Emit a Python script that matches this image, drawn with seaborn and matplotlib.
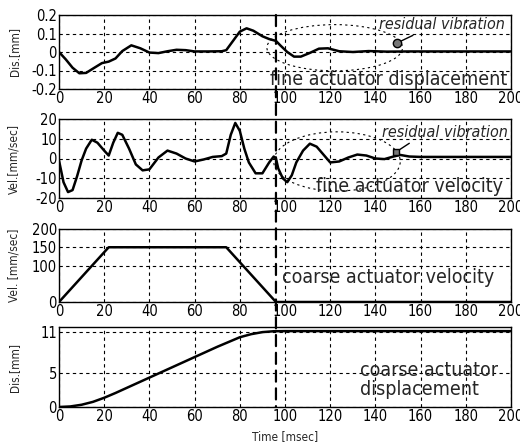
import matplotlib
matplotlib.use("Agg")
import matplotlib.pyplot as plt
import seaborn as sns
import pandas as pd
from matplotlib.patches import Ellipse, ConnectionPatch

# ---------------- data ----------------
fd_t = [0, 3, 6, 9, 12, 15, 19, 22, 25, 28, 32, 36, 40, 44, 48, 52, 56, 60, 66, 72, 74, 77, 80, 83, 86,
        90, 93, 96, 98, 101, 104, 107, 111, 115, 119, 124, 130, 137, 145, 155, 170, 200]
fd_y = [0, -0.04, -0.085, -0.115, -0.113, -0.09, -0.06, -0.052, -0.035, 0.005, 0.036, 0.02, -0.003,
        -0.006, 0.004, 0.012, 0.01, 0.003, 0.003, 0.004, 0.01, 0.06, 0.11, 0.128, 0.115, 0.085, 0.07,
        0.06, 0.035, 0.0, -0.025, -0.025, -0.005, 0.018, 0.02, 0.004, 0.0, 0.005, 0.002, 0.003, 0.003, 0.003]

fv_t = [0, 2, 4, 6, 8, 10, 12, 14.5, 17, 20, 22, 24, 26, 28, 31, 34, 37, 40, 44, 48, 52, 56, 60, 64, 68,
        72, 74, 76, 78, 80, 82, 84, 87, 90, 93, 95, 96, 97, 99, 101, 103, 105, 108, 111, 114, 117, 120,
        124, 128, 132, 136, 140, 144, 148, 151, 155, 160, 200]
fv_y = [-1, -12, -17, -16, -9, -1, 5, 9.5, 8, 4, 1.5, 8, 13, 12, 5, -3, -6, -5.5, 0.5, 4, 2.5, 0, -1.5,
        -0.5, 0.8, 1.2, 2.5, 12, 18, 14, 5, -2, -7.5, -7.5, -2, 1, 0, -5, -10, -12, -8.5, -2, 4, 7.5, 6,
        2, -2, -1.5, 0.5, 2, 1.5, 0, -0.3, 1, 1.8, 1, 0.8, 0.8]

cv_t = [0, 22, 74, 96, 200]
cv_y = [0, 150, 150, 0, 0]

cd_t = [0, 5, 10, 15, 20, 25, 30, 35, 40, 45, 50, 55, 60, 65, 70, 75, 80, 85, 90, 95, 100, 200]
cd_y = [0, 0.08, 0.33, 0.75, 1.35, 2.05, 2.8, 3.55, 4.3, 5.05, 5.8, 6.55, 7.3, 8.05, 8.8, 9.5, 10.2,
        10.65, 10.95, 11.08, 11.1, 11.1]

x_ticks = [0, 20, 40, 60, 80, 100, 120, 140, 160, 180, 200]
switch_t = 96

# ---------------- style ----------------
sns.set_style("white")
plt.rcParams['font.family'] = ['DejaVu Sans']
plt.rcParams['font.stretch'] = 'condensed'

fig = plt.figure(figsize=(5.2, 4.43), dpi=100)
L, W = 59 / 520, 452 / 520
H = 443
rects = [(15, 89), (119, 198), (229, 302), (327, 407)]
axes = []
for top, bot in rects:
    axes.append(fig.add_axes([L, 1 - bot / H, W, (bot - top) / H]))

series = [(fd_t, fd_y), (fv_t, fv_y), (cv_t, cv_y), (cd_t, cd_y)]
ylims = [(-0.2, 0.2), (-20, 20), (0, 200), (0, 11.7)]
yticks = [[-0.2, -0.1, 0, 0.1, 0.2], [-20, -10, 0, 10, 20], [0, 100, 150, 200], [0, 5, 11]]
yticklabels = [["-0.2", "-0.1", "0", "0.1", "0.2"], ["-20", "-10", "0", "10", "20"],
               ["0", "100", "150", "200"], ["0", "5", "11"]]
ylabels = ["Dis.[mm]", "Vel.[mm/sec]", "Vel. [mm/sec]", "Dis.[mm]"]

for ax, (t, y), yl, yt, ytl, lab in zip(axes, series, ylims, yticks, yticklabels, ylabels):
    df = pd.DataFrame({"t": t, "y": y})
    sns.lineplot(data=df, x="t", y="y", ax=ax, color="black", linewidth=1.8, zorder=3)
    ax.set_xlim(0, 200)
    ax.set_ylim(*yl)
    ax.set_xticks(x_ticks)
    ax.set_xticklabels([str(v) for v in x_ticks])
    ax.set_yticks(yt)
    ax.set_yticklabels(ytl)
    ax.grid(True, color="black", linestyle=(0, (3, 3)), linewidth=0.8)
    ax.tick_params(axis="both", labelsize=10.5, length=2, direction="in", pad=1.5, colors="black")
    for s in ax.spines.values():
        s.set_color("black")
        s.set_linewidth(1.0)
    ax.set_xlabel("")
    ax.set_ylabel(lab, fontsize=8.5)
    ax.yaxis.set_label_coords(-0.085, 0.5)

axes[3].set_xlabel("Time [msec]", fontsize=8.5, labelpad=4)

# dashed vertical line at switching time across all panels
con = ConnectionPatch(xyA=(switch_t, 0.2), coordsA=axes[0].transData,
                      xyB=(switch_t, 0), coordsB=axes[3].transData,
                      color="black", linestyle=(0, (5, 3)), linewidth=1.6, zorder=10)
fig.add_artist(con)

# annotations panel 1
ax = axes[0]
ax.add_patch(Ellipse((122, 0.023), 60, 0.25, fill=False, edgecolor="black",
                     linestyle=(0, (2, 3)), linewidth=0.8, clip_on=False, zorder=4))
ax.plot([149.6, 156.6], [0.049, 0.09], color="black", linewidth=1.0, zorder=5)
ax.plot([149.6], [0.049], marker="o", markersize=6, color="#777777", markeredgecolor="black", zorder=6)
ax.text(141.5, 0.148, "residual vibration", fontsize=11.5, style="italic", va="center", ha="left")
ax.text(198.5, -0.148, "fine actuator displacement", fontsize=14, va="center", ha="right")

# annotations panel 2
ax = axes[1]
ax.add_patch(Ellipse((123, -1.5), 56, 30, fill=False, edgecolor="black",
                     linestyle=(0, (2, 3)), linewidth=0.8, clip_on=False, zorder=4))
ax.plot([149, 155], [3.2, 7.7], color="black", linewidth=1.0, zorder=5)
ax.plot([149], [3.2], marker="s", markersize=5, color="#777777", markeredgecolor="black", zorder=6)
ax.text(143, 13, "residual vibration", fontsize=11.5, style="italic", va="center", ha="left")
ax.text(196.5, -14.4, "fine actuator velocity", fontsize=14, va="center", ha="right")

axes[2].text(192.5, 66, "coarse actuator velocity", fontsize=14, va="center", ha="right")
axes[3].text(133, 3.9, "coarse actuator\ndisplacement", fontsize=14, va="center", ha="left",
             linespacing=1.0)

fig.savefig("out.png", dpi=100)
